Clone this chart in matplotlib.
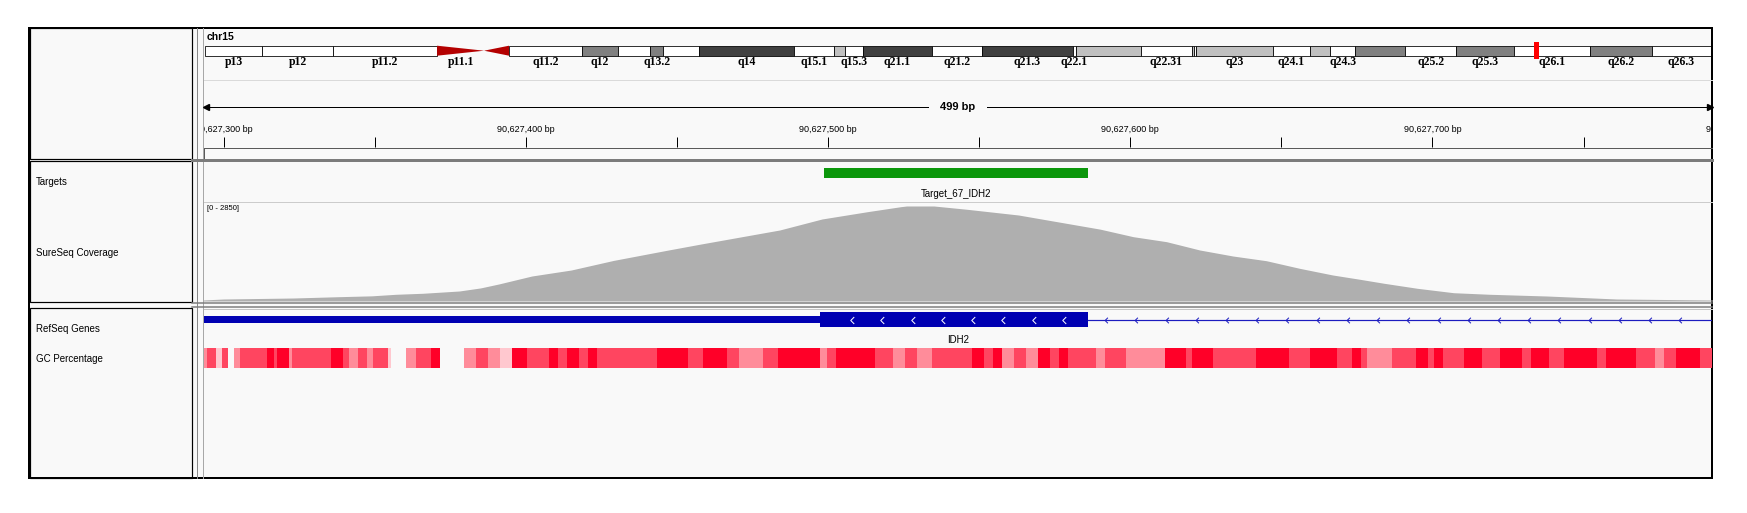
import numpy as np
import matplotlib
matplotlib.use("Agg")
import matplotlib.pyplot as plt
from matplotlib.patches import Rectangle, Polygon
from matplotlib.path import Path

W, H = 1747, 513   # output size in pixels (dpi 100)
PX = 0.72          # one pixel expressed in points

plt.rcParams['font.family'] = ['Liberation Sans', 'DejaVu Sans']

# ---------------- data ----------------
chrom = "chr15"
chrom_len = 102.531392          # Mb
view_start = 90627293.5
view_end = 90627792.5

# cytobands (Mb)
band_names = ["p13", "p12", "p11.2", "p11.1", "q11.1", "q11.2", "q12", "q13.1", "q13.2",
              "q13.3", "q14", "q15.1", "q15.2", "q15.3", "q21.1", "q21.2", "q21.3",
              "q22.1", "q22.2", "q22.31", "q22.32", "q22.33", "q23", "q24.1", "q24.2",
              "q24.3", "q25.1", "q25.2", "q25.3", "q26.1", "q26.2", "q26.3"]
band_starts = [0.0, 3.9, 8.7, 15.8, 19.0, 20.7, 25.7, 28.1, 30.3, 31.2, 33.6, 40.1, 42.8,
               43.6, 44.8, 49.5, 52.9, 59.1, 59.3, 63.7, 67.2, 67.3, 67.5, 72.7, 75.2,
               76.6, 78.3, 81.7, 85.2, 89.1, 94.3, 98.5]
band_stains = ["gneg", "gneg", "gneg", "acen", "acen", "gneg", "gpos50", "gneg", "gpos50",
               "gneg", "gpos75", "gneg", "gpos25", "gneg", "gpos75", "gneg", "gpos75",
               "gneg", "gpos25", "gneg", "gpos25", "gneg", "gpos25", "gneg", "gpos25",
               "gneg", "gpos50", "gneg", "gpos50", "gneg", "gpos50", "gneg"]
hidden_labels = ["q11.1", "q13.1", "q13.3", "q15.2", "q22.2", "q22.32", "q22.33",
                 "q24.2", "q25.1"]
stain_colors = {"gneg": "white", "gpos25": "#c0c0c0", "gpos50": "#808080",
                "gpos75": "#404040", "acen": "#b40000"}

# track names in the left panel
track_names = ["Targets", "SureSeq Coverage", "RefSeq Genes", "GC Percentage"]

# target interval
target_name = "Target_67_IDH2"
target_start = 90627498.5
target_end = 90627586.0

# coverage (bp offset from 90,627,000 and read depth)
cov_base = 90627000
cov_pos = [293, 300, 323, 338, 349, 357, 366, 378, 385, 391, 402, 415, 429, 447, 458,
           484, 498, 513, 524, 526, 535, 546, 563, 590, 601, 612, 623, 634, 645, 656,
           667, 676, 684, 695, 707, 719, 738, 761, 793]
cov_val = [29, 58, 87, 125, 150, 195, 225, 291, 380, 494, 727, 901, 1180, 1480, 1658,
           2065, 2385, 2597, 2742, 2763, 2763, 2667, 2501, 2090, 1870, 1725, 1483, 1308,
           1172, 951, 756, 631, 515, 369, 241, 195, 145, 58, 29]
cov_max = 2850

# gene model (IDH2, minus strand)
gene_name = "IDH2"
utr_start = 90627100.0
exon_start = 90627497.5
exon_end = 90627586.0
intron_end = 90627900.0

# GC percentage: segment starts (bp offset from view start) and shade level 0..4
gc_start = [0, 1, 4, 6, 8, 10, 12, 21, 23, 24, 28, 29, 42, 46, 48, 51, 54, 56, 61, 62,
            67, 70, 75, 78, 86, 90, 94, 98, 102, 107, 114, 117, 120, 124, 127, 130, 150,
            160, 165, 173, 177, 185, 190, 204, 206, 209, 222, 228, 232, 236, 241, 254,
            258, 261, 264, 268, 272, 276, 280, 283, 286, 295, 298, 305, 318, 325, 327,
            334, 348, 359, 366, 375, 380, 383, 385, 393, 401, 405, 407, 410, 417, 423,
            429, 436, 439, 445, 450, 461, 464, 474, 480, 483, 487, 495]
gc_level = [2, 3, 1, 3, 0, 2, 3, 4, 3, 4, 2, 3, 4, 3, 2, 3, 2, 3, 1, 0,
            2, 3, 4, 0, 2, 3, 2, 1, 4, 3, 4, 3, 4, 3, 4, 3, 4,
            3, 4, 3, 2, 3, 4, 2, 3, 4, 3, 2, 3, 2, 3, 4,
            3, 4, 2, 3, 2, 4, 3, 4, 3, 2, 3, 2, 4, 3, 4,
            3, 4, 3, 4, 3, 4, 3, 2, 3, 4, 3, 4, 3, 4, 3,
            4, 3, 4, 3, 4, 3, 4, 3, 2, 3, 4, 3]
gc_colors = ["#f9f9f9", "#ffc8cf", "#ff8c9a", "#ff4560", "#ff0028"]

# ---------------- drawing ----------------
fig = plt.figure(figsize=(W / 100, H / 100), dpi=100)
fig.patch.set_facecolor("white")


def px_axes(x0, y0, x1, y1):
    ax = fig.add_axes([x0 / W, 1 - y1 / H, (x1 - x0) / W, (y1 - y0) / H])
    ax.set_axis_off()
    ax.patch.set_visible(False)
    return ax


# frame, panels and separators (pixel coordinates)
bg = fig.add_axes([0, 0, 1, 1])
bg.set_xlim(0, W)
bg.set_ylim(H, 0)
bg.set_axis_off()
bg.add_patch(Rectangle((29, 28), 1683, 450, fc="#f9f9f9", ec="none"))
for y0, y1 in [(28, 158.5), (160.5, 301.5), (307.5, 478)]:
    bg.add_patch(Rectangle((30, y0), 162, y1 - y0, fc="none", ec="black", lw=1.2 * PX))
bg.plot([197, 197], [28, 478], color="#8a8a8a", lw=1 * PX)
bg.plot([203, 203], [28, 478], color="#a8a8a8", lw=1 * PX)
bg.plot([192, 1712], [159.5, 159.5], color="#7c7c7c", lw=3 * PX)
bg.plot([192, 1712], [303, 303], color="#7c7c7c", lw=1.5 * PX)
bg.plot([192, 1712], [306.5, 306.5], color="#7c7c7c", lw=1.5 * PX)
bg.plot([204, 1712], [80, 80], color="#dadada", lw=1 * PX)
bg.plot([204, 1712], [147.5, 147.5], color="#5a5a5a", lw=1 * PX)
bg.plot([204, 1712], [202, 202], color="#cccccc", lw=1 * PX)
bg.plot([204, 1712], [309, 309], color="#c4c4c4", lw=1 * PX)
bg.plot([204, 204], [147.5, 158], color="#5a5a5a", lw=1 * PX)
bg.add_patch(Rectangle((29, 28), 1683, 450, fc="none", ec="black", lw=2 * PX))

for name, y in zip(track_names, [182, 253, 329, 359]):
    bg.text(36, y, name, fontsize=7, va="center", ha="left", color="black")
bg.text(207, 37, chrom, fontsize=7.5, fontweight="bold", va="center", ha="left")
bg.text(207, 208, f"[0 - {cov_max}]", fontsize=5.5, va="center", ha="left")

# ideogram
ideo = px_axes(205, 28, 1711, 80)
ideo.set_xlim(0, chrom_len)
ideo.set_ylim(80, 28)
band_ends = band_starts[1:] + [chrom_len]
top, bot = 45.7, 55.7
for nm, s, e, st in zip(band_names, band_starts, band_ends, band_stains):
    if st == "acen":
        mid = (top + bot) / 2
        if nm.startswith("p"):
            pts = [(s, top), (s, bot), (e, mid)]
        else:
            pts = [(s, mid), (e, top), (e, bot)]
        ideo.add_patch(Polygon(pts, closed=True, fc=stain_colors[st], ec="none"))
    else:
        ideo.add_patch(Rectangle((s, top), e - s, bot - top, fc=stain_colors[st],
                                 ec="black", lw=0.8 * PX))
    if nm not in hidden_labels:
        ideo.text((s + e) / 2, 61.5, nm, fontsize=8.5, fontweight="bold",
                  family=["Liberation Serif", "DejaVu Serif"],
                  ha="center", va="center")
locus_mb = (view_start + view_end) / 2 / 1e6
ideo.add_patch(Rectangle((locus_mb - 0.17, 42), 0.34, 16.5, fc="#ff0000", ec="none"))

# genomic tracks: x in bp, y in pixels
g = px_axes(204, 0, 1712, H)
g.set_xlim(view_start, view_end)
g.set_ylim(H, 0)

# ruler
span = int(round(view_end - view_start))
mid_bp = (view_start + view_end) / 2
g.plot([view_start, view_end], [107, 107], color="black", lw=1 * PX)
g.plot([view_start + 0.8], [107], marker="<", ms=4.5, color="black", clip_on=False)
g.plot([view_end - 0.8], [107], marker=">", ms=4.5, color="black", clip_on=False)
g.text(mid_bp, 107, f"{span} bp", fontsize=8, fontweight="bold", ha="center",
       va="center", bbox=dict(fc="#f9f9f9", ec="none", pad=8))
ticks = np.arange(90627300, view_end, 50)
g.vlines(ticks, 137, 147, color="black", lw=1 * PX)
for t in np.arange(90627300, view_end + 100, 100):
    g.text(t, 129, f"{int(t):,} bp", fontsize=6.5, ha="center", va="center",
           clip_on=True)

# targets
g.bar(target_start, 10, width=target_end - target_start, bottom=168, align="edge",
      color="#0b970b", lw=0)
g.text((target_start + target_end) / 2, 194, target_name, fontsize=7,
       ha="center", va="center")

# gene model
blue = "#0000b2"
g.bar(utr_start, 7.5, width=exon_start - utr_start, bottom=315.8, align="edge",
      color=blue, lw=0)
g.bar(exon_start, 14.5, width=exon_end - exon_start, bottom=312.3, align="edge",
      color=blue, lw=0)
g.plot([exon_end, intron_end], [320, 320], color="#1c1cc0", lw=1.2 * PX)
chev = Path([(0.5, 1), (-0.5, 0), (0.5, -1)], [Path.MOVETO, Path.LINETO, Path.LINETO])
g.plot(np.arange(90627508, exon_end - 5, 10), [320] * 8, ls="none", marker=chev,
       ms=5, mfc="none", mec="white", mew=1 * PX)
intr = np.arange(90627592, view_end - 5, 10)
g.plot(intr, [320] * len(intr), ls="none", marker=chev, ms=4, mfc="none",
       mec="#1c1cc0", mew=1 * PX)
g.text(mid_bp, 340, gene_name, fontsize=7, ha="center", va="center")

# GC percentage
gc_s = view_start + np.array(gc_start)
gc_e = np.append(gc_s[1:], view_end)
g.bar(gc_s, 20.5, width=gc_e - gc_s, bottom=347.8, align="edge",
      color=[gc_colors[l] for l in gc_level], lw=0)

# coverage
cov = px_axes(204, 203, 1712, 301)
cov.set_xlim(view_start, view_end)
cov.set_ylim(0, cov_max)
cov.fill_between(np.array(cov_pos) + cov_base, cov_val, 0, color="#afafaf", lw=0)

fig.savefig("out.png", dpi=100, facecolor="white")
